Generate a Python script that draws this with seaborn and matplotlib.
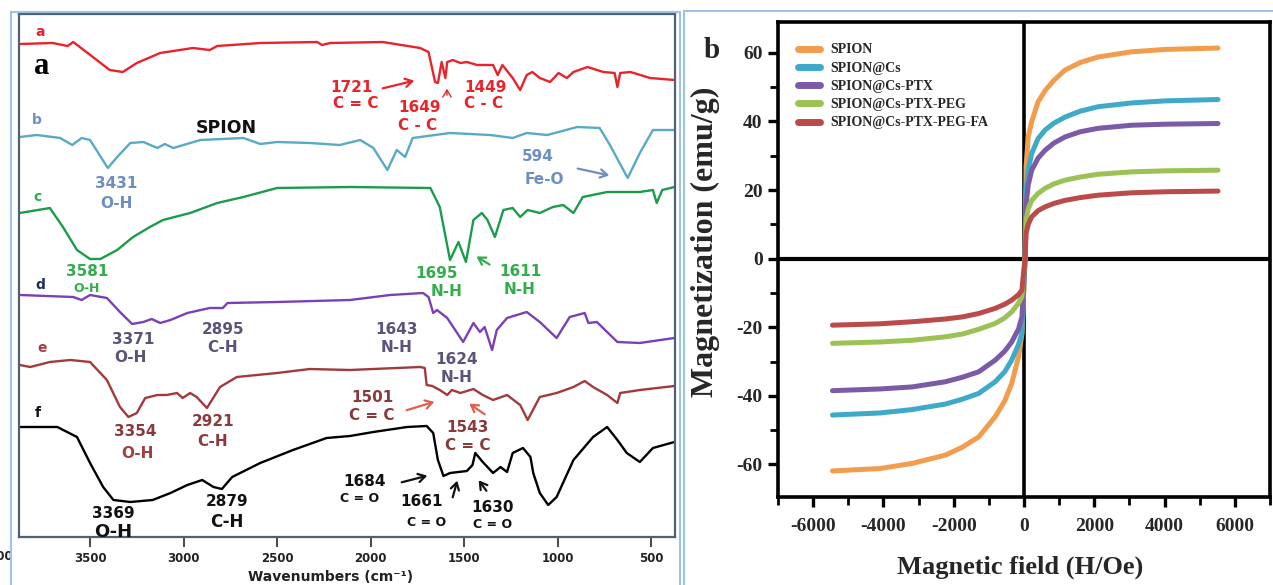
import matplotlib
matplotlib.use("Agg")
import numpy as np
import pandas as pd
import matplotlib.pyplot as plt
import seaborn as sns
from matplotlib.patches import Rectangle
from matplotlib.ticker import MultipleLocator
from matplotlib.font_manager import FontProperties

# ---------------- Panel a : FTIR spectra (wavenumber, offset transmittance a.u.) -------------
wn_a = [3875, 3700, 3620, 3590, 3485, 3395, 3325, 3250,
        3125, 2950, 2860, 2820, 2590, 2285, 2260, 2215,
        1935, 1735, 1690, 1655, 1640, 1620, 1600, 1590,
        1560, 1520, 1485, 1430, 1345, 1320, 1295, 1240,
        1200, 1165, 1135, 1095, 1040, 995, 950, 915,
        840, 755, 695, 680, 665, 610, 505, 375]
t_a = [493, 494, 491, 495, 480, 467, 465, 474,
       484, 489, 487, 491, 494, 495, 492, 494,
       495, 489, 485, 455, 454, 475, 459, 475,
       477, 474, 475, 472, 472, 462, 472, 459,
       447, 462, 465, 459, 455, 464, 459, 465,
       470, 465, 464, 450, 464, 465, 459, 457]

wn_b = [3875, 3785, 3660, 3595, 3545, 3500,
        3405, 3355, 3285, 3215, 3140, 3100, 3055,
        2910, 2680, 2590, 2500, 2325, 2165, 2055,
        1985, 1910, 1860, 1815, 1775, 1575, 1360,
        1240, 1165, 1055, 895, 775, 720, 625,
        560, 490, 375]
t_b = [400, 402, 399, 392, 399, 397,
       369, 380, 394, 395, 389, 393, 389,
       397, 399, 393, 395, 394, 392, 397,
       389, 367, 387, 380, 399, 404, 402,
       399, 404, 402, 410, 409, 392, 359,
       384, 407, 407]

wn_c = [3875, 3715, 3645, 3570, 3500, 3445, 3355, 3270,
        3180, 3110, 2965, 2820, 2680, 2500, 2110, 1680,
        1630, 1575, 1530, 1490, 1450, 1405, 1375, 1335,
        1290, 1240, 1200, 1160, 1095, 1025, 970, 915,
        865, 735, 560, 490, 470, 440, 375]
t_c = [324, 329, 310, 287, 278, 278, 287, 300,
       310, 317, 324, 334, 340, 349, 350, 349,
       330, 277, 295, 275, 317, 324, 317, 300,
       327, 329, 320, 327, 324, 330, 332, 324,
       340, 345, 345, 347, 334, 347, 350]

wn_d = [3875, 3590, 3545, 3500, 3410, 3340, 3275, 3215,
        3170, 3125, 3070, 2980, 2860, 2790, 2765, 2500,
        2110, 1895, 1720, 1690, 1665, 1645, 1590, 1505,
        1450, 1415, 1390, 1350, 1325, 1270, 1165, 1095,
        1005, 935, 855, 835, 790, 680, 560, 450, 375]
t_d = [242, 240, 237, 242, 239, 225, 213, 215,
       218, 214, 217, 224, 229, 229, 234, 235,
       237, 242, 244, 240, 224, 227, 219, 195,
       214, 205, 210, 187, 207, 219, 225, 215,
       199, 220, 224, 214, 215, 195, 194, 197, 199]

wn_e = [3875, 3820, 3715, 3605, 3500, 3410, 3340, 3295,
        3250, 3205, 3140, 3090, 3035, 3005, 2965, 2930,
        2875, 2805, 2715, 2500, 2325, 2110, 1735, 1710,
        1700, 1670, 1630, 1590, 1565, 1520, 1450, 1400,
        1345, 1270, 1200, 1160, 1095, 1005, 915, 855,
        810, 735, 680, 665, 560, 375]
t_e = [172, 170, 175, 177, 175, 157, 130, 120,
       124, 139, 142, 142, 144, 139, 144, 140,
       129, 150, 160, 164, 168, 167, 170, 169,
       152, 151, 147, 142, 147, 144, 148, 142,
       137, 142, 132, 117, 140, 144, 150, 156,
       150, 142, 134, 144, 147, 151]

wn_f = [3875, 3675, 3570, 3500, 3430, 3375, 3285, 3165,
        3070, 2980, 2900, 2840, 2795, 2740, 2590, 2415,
        2235, 2110, 1985, 1805, 1700, 1665, 1640, 1610,
        1575, 1485, 1455, 1440, 1400, 1345, 1305, 1270,
        1240, 1185, 1145, 1130, 1095, 1050, 1005, 915,
        810, 735, 680, 630, 560, 490, 375]
t_f = [110, 110, 100, 74, 50, 37, 35, 37,
       44, 52, 57, 50, 48, 60, 74, 87,
       99, 101, 105, 110, 111, 104, 77, 61,
       64, 66, 72, 84, 75, 64, 70, 65,
       84, 89, 80, 64, 44, 32, 40, 77,
       100, 110, 97, 84, 75, 89, 95]

ir_names = ["a", "b", "c", "d", "e", "f"]
ir_colors = ["#e8232b", "#5aa9c6", "#1b9c4b", "#7b3fb8", "#a23a3c", "#000000"]
ir_ticks = [3500, 3000, 2500, 2000, 1500, 1000, 500]

# ---------------- Panel b : magnetization curves ----------------
field = [-5450, -4100, -3180, -2240, -1760, -1290, -820, -550, -350, -155, -60, 30,
         60, 120, 220, 400, 600, 850, 1170, 1600, 2110, 3060, 4010, 5520]
m_spion = [-61.9, -61.2, -59.7, -57.3, -55.0, -52.0, -46.1, -41.5, -36.4, -28.6, -22.0, 0.0,
           27.0, 35.5, 40.0, 45.7, 49.0, 52.0, 55.0, 57.2, 58.8, 60.3, 61.0, 61.4]
m_cs = [-45.6, -45.0, -44.0, -42.4, -41.0, -39.3, -35.9, -33.0, -29.6, -25.0, -21.8, 0.0,
        20.0, 26.0, 30.7, 35.0, 37.5, 39.5, 41.3, 43.0, 44.3, 45.4, 46.0, 46.4]
m_ptx = [-38.5, -38.0, -37.4, -35.9, -34.6, -33.0, -29.6, -27.0, -24.3, -20.5, -17.0, 0.0,
         16.0, 21.5, 25.8, 29.3, 31.6, 33.7, 35.5, 37.0, 38.0, 38.9, 39.2, 39.4]
m_peg = [-24.7, -24.3, -23.8, -22.8, -22.0, -20.6, -18.9, -17.3, -15.5, -13.0, -11.1, 0.0,
         11.5, 14.5, 17.0, 19.0, 20.5, 21.8, 22.9, 23.8, 24.6, 25.3, 25.6, 25.8]
m_fa = [-19.4, -19.0, -18.4, -17.6, -17.0, -16.0, -14.5, -13.3, -12.1, -10.5, -9.2, 0.0,
        7.4, 10.0, 12.2, 14.0, 15.1, 16.1, 17.0, 17.8, 18.5, 19.2, 19.5, 19.7]
mag_names = ["SPION", "SPION@Cs", "SPION@Cs-PTX", "SPION@Cs-PTX-PEG", "SPION@Cs-PTX-PEG-FA"]
mag_colors = ["#f29d4e", "#3fa9c9", "#7b5aa6", "#9cc155", "#bb4a4a"]
h_ticks = [-6000, -4000, -2000, 0, 2000, 4000, 6000]
m_ticks = [-60, -40, -20, 0, 20, 40, 60]

# ---------------- figure ----------------
sns.set_style("white")
plt.rcParams["axes.unicode_minus"] = False
plt.rcParams["font.family"] = ["DejaVu Sans"]

W, H = 1273, 585
fig = plt.figure(figsize=(W / 100, H / 100), dpi=100)


def fx(x):
    return x / W


def fy(y):
    return 1 - y / H


# outer light-blue panel borders
fig.add_artist(Rectangle((fx(11), fy(600)), (680 - 11) / W, (600 - 12) / H,
                         transform=fig.transFigure, fill=False, ec="#9dc3e6", lw=1.5))
fig.add_artist(Rectangle((fx(684), fy(600)), (1300 - 684) / W, (600 - 11) / H,
                         transform=fig.transFigure, fill=False, ec="#9dc3e6", lw=1.5))

# ---- panel a
axL = fig.add_axes([fx(19), fy(537), (675 - 19) / W, (537 - 14) / H])
ir_df = pd.concat([
    pd.DataFrame({"wavenumber": w, "signal": t, "trace": n})
    for w, t, n in zip([wn_a, wn_b, wn_c, wn_d, wn_e, wn_f],
                       [t_a, t_b, t_c, t_d, t_e, t_f], ir_names)
], ignore_index=True)
sns.lineplot(data=ir_df, x="wavenumber", y="signal", hue="trace",
             palette=dict(zip(ir_names, ir_colors)), sort=False, estimator=None,
             legend=False, lw=1.7, ax=axL)
axL.set_xlim(3880, 372)
axL.set_ylim(0, 523)
axL.set_yticks([])
axL.set_xticks(ir_ticks)
axL.set_xticklabels([str(v) for v in ir_ticks])
axL.set_xlabel("")
axL.set_ylabel("")
axL.tick_params(axis="x", direction="out", length=7, width=1.3, color="#3a3a3a",
                labelsize=8.5, pad=4, bottom=True)
for lb in axL.get_xticklabels():
    lb.set_fontweight("bold")
    lb.set_color("#222222")
# the 4000 label sits at the image edge in the reference and is partly cut
axL.text(4000, -(7 + 5.5) / 523, "4000", transform=axL.get_xaxis_transform(),
         ha="center", va="top", fontsize=8.5, fontweight="bold", color="#222222",
         clip_on=False)
for s in axL.spines.values():
    s.set_color("#4f6275")
    s.set_linewidth(1.6)
fig.text(fx(331), fy(577), "Wavenumbers (cm⁻¹)", ha="center", va="center",
         fontsize=10, fontweight="bold", color="#222222")


def lab(x, y, s, color, size=11, weight="bold", family=None):
    kw = {}
    if family:
        kw["family"] = family
    fig.text(fx(x), fy(y), s, color=color, fontsize=size, fontweight=weight,
             ha="center", va="center", **kw)


def arr(x0, y0, x1, y1, color, lw=1.6):
    fig.add_artist(matplotlib.patches.FancyArrowPatch(
        (fx(x0), fy(y0)), (fx(x1), fy(y1)), transform=fig.transFigure,
        arrowstyle="->,head_length=5,head_width=3", color=color, lw=lw))


RED, BLUE, GRN, PUR, BRN, BLK = "#e8232b", "#6d8fc0", "#33ad4a", "#5d5278", "#8a3a3c", "#111111"
lab(40, 32, "a", RED, 10)
lab(42, 66, "a", "black", 22, family="Liberation Serif")
lab(352, 88, "1721", RED); lab(356, 103, "C = C", RED)
lab(420, 107, "1649", RED); lab(418, 125, "C - C", RED)
lab(485, 88, "1449", RED); lab(484, 104, "C - C", RED)
arr(380, 89, 417, 80, RED)
arr(447, 98, 447, 86, RED, 1.0)

lab(37, 120, "b", BLUE, 10)
lab(226, 128, "SPION", BLK, 12.5)
lab(116, 183, "3431", BLUE); lab(116, 203, "O-H", BLUE)
lab(538, 157, "594", BLUE); lab(544, 180, "Fe-O", BLUE)
arr(575, 168, 612, 176, BLUE)

lab(38, 197, "c", GRN, 10)
lab(87, 272, "3581", GRN); lab(87, 288, "O-H", GRN, 9)
lab(437, 274, "1695", GRN); lab(447, 291, "N-H", GRN)
lab(520, 272, "1611", GRN); lab(520, 290, "N-H", GRN)
arr(492, 266, 474, 255, GRN)

lab(40, 285, "d", "#1f2d5a", 10)
lab(133, 339, "3371", PUR); lab(130, 358, "O-H", PUR)
lab(223, 329, "2895", PUR); lab(223, 347, "C-H", PUR)
lab(397, 329, "1643", PUR); lab(397, 347, "N-H", PUR)
lab(457, 360, "1624", PUR); lab(457, 378, "N-H", PUR)

lab(42, 348, "e", "#a04040", 10)
lab(135, 432, "3354", BRN); lab(137, 453, "O-H", "#a04040")
lab(213, 422, "2921", BRN); lab(213, 442, "C-H", BRN)
lab(372, 397, "1501", BRN); lab(372, 415, "C = C", BRN)
arr(404, 411, 437, 401, "#e0604a")
lab(468, 427, "1543", BRN); lab(468, 445, "C = C", BRN)
arr(487, 416, 467, 402, "#e0604a")

lab(38, 413, "f", BLK, 10)
lab(113, 513, "3369", BLK); lab(113, 532, "O-H", BLK, 13)
lab(227, 501, "2879", BLK); lab(227, 522, "C-H", BLK, 12)
lab(365, 482, "1684", BLK); lab(360, 498, "C = O", BLK, 9)
arr(399, 483, 430, 475, BLK)
lab(422, 502, "1661", BLK); lab(427, 523, "C = O", BLK, 9)
arr(452, 500, 458, 478, BLK)
lab(493, 507, "1630", BLK); lab(493, 525, "C = O", BLK, 9)
arr(488, 493, 477, 478, BLK)

# ---- panel b
serif = "Liberation Serif"
axR = fig.add_axes([fx(778), fy(497), (1270 - 778) / W, (497 - 22) / H])
mag_df = pd.concat([
    pd.DataFrame({"H": field, "M": m, "sample": n})
    for m, n in zip([m_spion, m_cs, m_ptx, m_peg, m_fa], mag_names)
], ignore_index=True)
axR.axvline(0, color="black", lw=2.6, zorder=1)
axR.axhline(0, color="black", lw=3.0, zorder=1)
sns.lineplot(data=mag_df, x="H", y="M", hue="sample", hue_order=mag_names,
             palette=dict(zip(mag_names, mag_colors)), sort=False, estimator=None,
             lw=3.6, ax=axR, zorder=3)
axR.set_xlim(-7000, 7000)
axR.set_ylim(-69.5, 69)
axR.set_xticks(h_ticks)
axR.set_yticks(m_ticks)
axR.set_xticklabels([str(v) for v in h_ticks])
axR.set_yticklabels([str(v) for v in m_ticks])
axR.xaxis.set_minor_locator(MultipleLocator(1000))
axR.yaxis.set_minor_locator(MultipleLocator(10))
axR.tick_params(which="major", direction="out", length=7, width=2.4, color="black",
                bottom=True, left=True, labelsize=14)
axR.tick_params(which="minor", direction="out", length=6, width=2.0, color="black",
                bottom=True, left=True)
axR.tick_params(axis="x", pad=8)
axR.tick_params(axis="y", pad=4)
for lb in axR.get_xticklabels() + axR.get_yticklabels():
    lb.set_fontfamily(serif)
    lb.set_fontweight("bold")
axR.set_xlabel("")
axR.set_ylabel("")
for s in axR.spines.values():
    s.set_color("black")
    s.set_linewidth(2.6)

handles, labels = axR.get_legend_handles_labels()
leg = axR.legend(handles, labels, loc="upper left", bbox_to_anchor=(0.04, 0.955),
                 frameon=False, prop=FontProperties(family=serif, weight="bold", size=10),
                 handlelength=1.6, handletextpad=0.75, labelspacing=0.38,
                 borderpad=0, borderaxespad=0)
for ln in leg.get_lines():
    ln.set_linewidth(5)

fig.text(fx(705), fy(242), "Magnetization (emu/g)", rotation=90, ha="center", va="center",
         fontsize=23, fontweight="bold", family=serif)
fig.text(fx(1020), fy(567), "Magnetic field (H/Oe)", ha="center", va="center",
         fontsize=19, fontweight="bold", family=serif)
fig.text(fx(712), fy(50), "b", ha="center", va="center", fontsize=21,
         fontweight="bold", family=serif)

fig.savefig("out.png", dpi=100)
